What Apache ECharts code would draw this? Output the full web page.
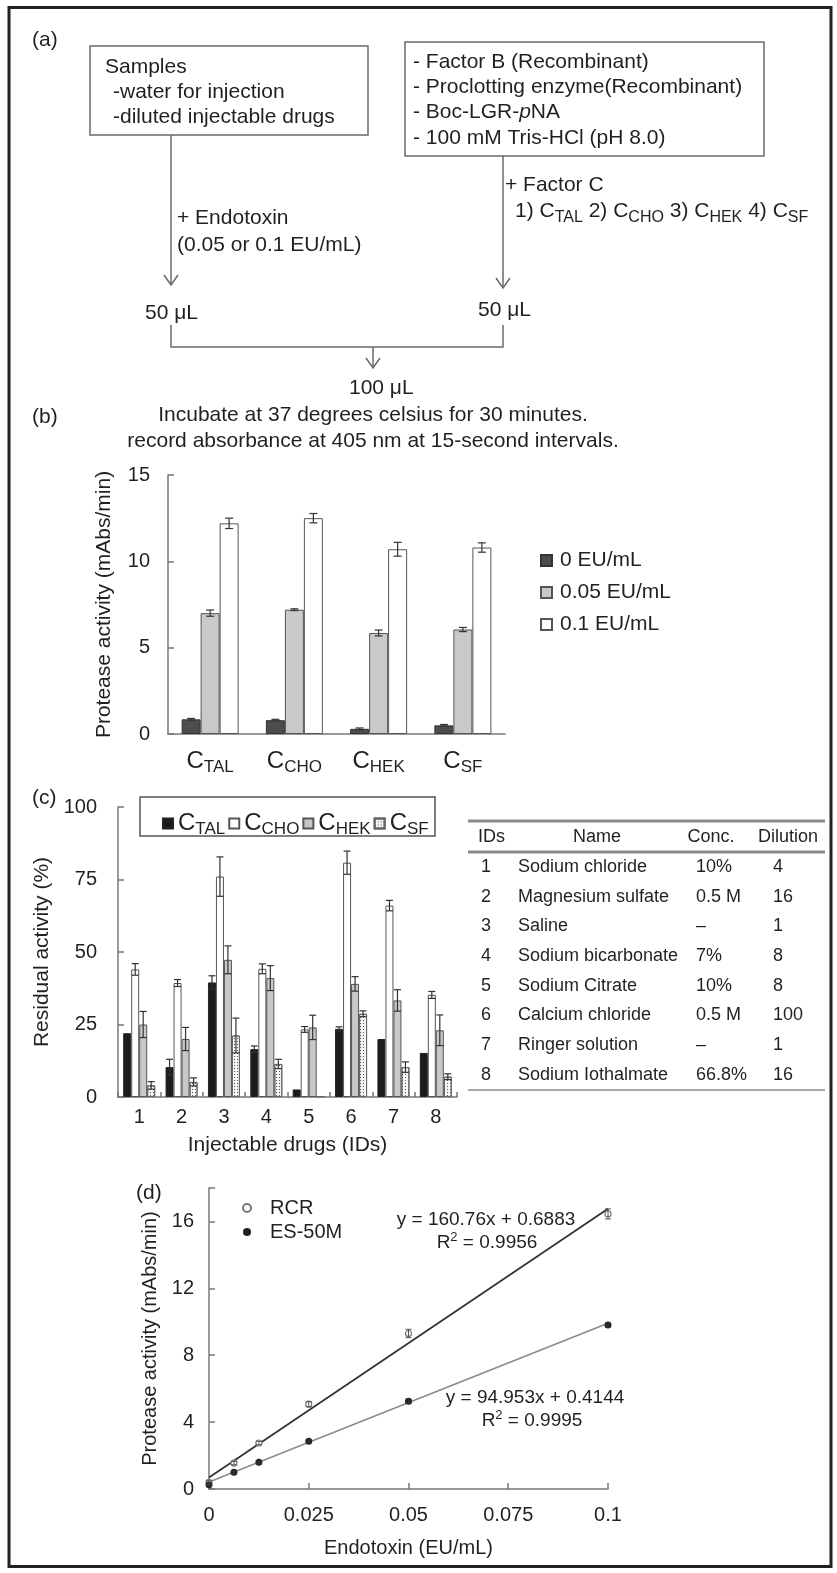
<!DOCTYPE html>
<html><head><meta charset="utf-8">
<script src="https://cdn.jsdelivr.net/npm/echarts@6/dist/echarts.min.js"></script>
<style>html,body{margin:0;padding:0;background:#fff}#c{width:837px;height:1573px}</style>
</head><body><div id="c"></div>
<script>
// ---------- Panel (a) texts ----------
const sampleLines = ['Samples', '-water for injection', '-diluted injectable drugs'];
const reagentLines = ['- Factor B (Recombinant)', '- Proclotting enzyme(Recombinant)', '- Boc-LGR-{i|p}NA', '- 100 mM Tris-HCl (pH 8.0)'];
const endotoxinLines = ['+ Endotoxin', '(0.05 or 0.1 EU/mL)'];
const factorCLines = ['+ Factor C', '1) {c|C}{s|TAL} 2) {c|C}{s|CHO} 3) {c|C}{s|HEK} 4) {c|C}{s|SF}'];
const volumeLabels = ['50 \u03bcL', '50 \u03bcL', '100 \u03bcL'];
const incubateLines = ['Incubate at 37 degrees celsius for 30 minutes.', 'record absorbance at 405 nm at 15-second intervals.'];

// ---------- Panel (b) ----------
const bCats = ['TAL', 'CHO', 'HEK', 'SF'];
const bNames = ['0 EU/mL', '0.05 EU/mL', '0.1 EU/mL'];
const b0 = [0.85, 0.8, 0.3, 0.5];
const b0Err = [0.05, 0.05, 0.05, 0.05];
const b005 = [7.0, 7.2, 5.85, 6.05];
const b005Err = [0.18, 0.05, 0.17, 0.12];
const b01 = [12.2, 12.5, 10.7, 10.8];
const b01Err = [0.3, 0.27, 0.4, 0.27];

// ---------- Panel (c) ----------
const cIDs = ['1', '2', '3', '4', '5', '6', '7', '8'];
const cNames = ['CTAL', 'CCHO', 'CHEK', 'CSF'];
const cTAL = [22, 10.3, 39.5, 16.5, 2.6, 23.5, 20, 15.2];
const cTALErr = [0, 2.7, 2.3, 1.1, 0, 0.7, 0, 0];
const cCHO = [44, 39.3, 76, 44.2, 23.3, 80.8, 66, 35.2];
const cCHOErr = [2, 1.2, 6.8, 1.7, 1, 4, 1.8, 1.2];
const cHEK = [25, 20, 47.3, 41, 24, 39, 33.3, 23];
const cHEKErr = [4.5, 4, 4.8, 4.3, 4.2, 2.5, 3.7, 5.3];
const cSF = [4, 5.2, 21.2, 11.4, 0.3, 28.7, 10.3, 7];
const cSFErr = [1.3, 1.4, 6, 1.6, 0, 1, 1.8, 1];

// ---------- Table ----------
const tHeader = ['IDs', 'Name', 'Conc.', 'Dilution'];
const tIDs = ['1', '2', '3', '4', '5', '6', '7', '8'];
const tNames = ['Sodium chloride', 'Magnesium sulfate', 'Saline', 'Sodium bicarbonate', 'Sodium Citrate', 'Calcium chloride', 'Ringer solution', 'Sodium Iothalmate'];
const tConc = ['10%', '0.5 M', '\u2013', '7%', '10%', '0.5 M', '\u2013', '66.8%'];
const tDil = ['4', '16', '1', '8', '8', '100', '1', '16'];

// ---------- Panel (d) ----------
const dX = [0, 0.00625, 0.0125, 0.025, 0.05, 0.1];
const dRCR = [0.4, 1.55, 2.75, 5.07, 9.3, 16.45];
const dRCRErr = [0.1, 0.1, 0.1, 0.15, 0.25, 0.3];
const dES = [0.25, 1.0, 1.6, 2.85, 5.25, 9.8];
const dESErr = [0.08, 0.08, 0.08, 0.1, 0.12, 0.12];
const dRCRFit = [[0, 0.6883], [0.1, 16.7643]];
const dESFit = [[0, 0.4144], [0.1, 9.9097]];
const dEq1 = ['y = 160.76x + 0.6883', 'R{sup|2} = 0.9956'];
const dEq2 = ['y = 94.953x + 0.4144', 'R{sup|2} = 0.9995'];

// ---------- styles ----------
const FF = 'Liberation Sans';
const TXT = '#231f20';
const AX = '#777';
const LN = '#6a6a6a';

const graphics = [];
function T(x, y, text, opt) {
  graphics.push({type: 'text', x: x, y: y, silent: true, z: 10,
    style: Object.assign({text: text, fontSize: 21, fontFamily: FF, fill: TXT, align: 'left', verticalAlign: 'middle', lineHeight: 24}, opt || {})});
}
function L(x1, y1, x2, y2, opt) {
  graphics.push({type: 'line', silent: true, z: 10, shape: {x1: x1, y1: y1, x2: x2, y2: y2},
    style: Object.assign({stroke: LN, lineWidth: 1.5}, opt || {})});
}
function P(points, opt) {
  graphics.push({type: 'polyline', silent: true, z: 10, shape: {points: points},
    style: Object.assign({stroke: LN, lineWidth: 1.5, fill: null}, opt || {})});
}
function R(x, y, w, h, opt) {
  graphics.push({type: 'rect', silent: true, z: 10, shape: {x: x, y: y, width: w, height: h},
    style: Object.assign({stroke: LN, lineWidth: 1.5, fill: null}, opt || {})});
}
const subRichG = {
  c: {fontSize: 21, fontFamily: FF, fill: TXT, lineHeight: 24},
  s: {fontSize: 16, fontFamily: FF, fill: TXT, lineHeight: 24, padding: [14, 0, 0, 0]},
  i: {fontSize: 21, fontFamily: FF, fill: TXT, lineHeight: 24, fontStyle: 'italic'},
  sup: {fontSize: 13, fontFamily: FF, fill: TXT, lineHeight: 22, padding: [0, 0, 12, 0]}
};

// outer frame
R(9, 7.5, 822, 1559, {stroke: '#222', lineWidth: 3});

// panel labels
T(32, 40, '(a)');
T(32, 417, '(b)');
T(32, 798, '(c)');
T(136, 1193, '(d)');

// panel (a) diagram
R(90, 46, 278, 89);
R(405, 42, 359, 114);
T(105, 67, sampleLines[0]);
T(113, 92, sampleLines[1]);
T(113, 117, sampleLines[2]);
reagentLines.forEach(function (s, i) { T(413, 62 + i * 25.3, s, {rich: subRichG}); });
L(171, 135, 171, 285);
P([[164, 275], [171, 285], [178, 275]]);
L(503, 156, 503, 288);
P([[496, 278], [503, 288], [510, 278]]);
T(177, 218, endotoxinLines[0]);
T(177, 245, endotoxinLines[1]);
T(505, 185, factorCLines[0]);
T(515, 211, factorCLines[1], {rich: subRichG});
T(145, 313, volumeLabels[0]);
T(478, 310, volumeLabels[1]);
P([[171, 325], [171, 347], [503, 347], [503, 325]]);
L(373, 347, 373, 368);
P([[366, 358], [373, 368], [380, 358]]);
T(349, 388, volumeLabels[2]);
T(373, 415, incubateLines[0], {align: 'center'});
T(373, 441, incubateLines[1], {align: 'center'});

// panel (c) legend box
R(140, 797, 295, 39, {stroke: '#555', lineWidth: 1.5});

// table
L(468, 821, 825, 821, {stroke: '#8a8a8a', lineWidth: 3});
L(468, 852, 825, 852, {stroke: '#8a8a8a', lineWidth: 3});
L(468, 1090, 825, 1090, {stroke: '#8a8a8a', lineWidth: 1.5});
const tFont = {fontSize: 18};
T(478, 837, tHeader[0], tFont);
T(597, 837, tHeader[1], Object.assign({align: 'center'}, tFont));
T(711, 837, tHeader[2], Object.assign({align: 'center'}, tFont));
T(788, 837, tHeader[3], Object.assign({align: 'center'}, tFont));
tIDs.forEach(function (id, i) {
  const y = 867 + i * 29.7;
  T(481, y, id, tFont);
  T(518, y, tNames[i], tFont);
  T(696, y, tConc[i], tFont);
  T(773, y, tDil[i], tFont);
});

// panel (d) equations
T(486, 1220, dEq1[0], {align: 'center', fontSize: 19, lineHeight: 22});
T(487, 1243, dEq1[1], {align: 'center', fontSize: 19, lineHeight: 22, rich: subRichG});
T(535, 1398, dEq2[0], {align: 'center', fontSize: 19, lineHeight: 22});
T(532, 1421, dEq2[1], {align: 'center', fontSize: 19, lineHeight: 22, rich: subRichG});

// ---------- helpers ----------
function errSeries(name, axis, cats, vals, errs, offset, cap, color, lw) {
  return {
    type: 'custom', name: name, xAxisIndex: axis, yAxisIndex: axis, z: 6, silent: true,
    data: cats.map(function (c, i) { return [c, vals[i], errs[i]]; }),
    renderItem: function (params, api) {
      const x = api.value(0), v = api.value(1), e = api.value(2);
      if (!e) return null;
      const p1 = api.coord([x, v + e]), p2 = api.coord([x, v - e]);
      const cx = p1[0] + offset;
      const st = {stroke: color, lineWidth: lw, fill: null};
      return {type: 'group', children: [
        {type: 'line', shape: {x1: cx, y1: p1[1], x2: cx, y2: p2[1]}, style: st},
        {type: 'line', shape: {x1: cx - cap / 2, y1: p1[1], x2: cx + cap / 2, y2: p1[1]}, style: st},
        {type: 'line', shape: {x1: cx - cap / 2, y1: p2[1], x2: cx + cap / 2, y2: p2[1]}, style: st}
      ]};
    }
  };
}
const axisLineSt = {show: true, lineStyle: {color: AX, width: 1.5}};
const tickIn = {show: true, inside: true, length: 6, lineStyle: {color: AX, width: 1.5}};
const lbl = function (m) { return {fontSize: 20, fontFamily: FF, color: TXT, margin: m}; };
const nameSt = {fontSize: 21, fontFamily: FF, color: TXT};
const subRichC = {
  c: {fontSize: 24, fontFamily: FF, color: TXT, lineHeight: 26},
  s: {fontSize: 17, fontFamily: FF, color: TXT, lineHeight: 26, padding: [12, 0, 0, 0]}
};

const barB = {type: 'bar', xAxisIndex: 0, yAxisIndex: 0, barWidth: 19, barGap: '0%'};
const barC = {type: 'bar', xAxisIndex: 1, yAxisIndex: 1, barWidth: 8, barGap: '0%'};
const dotDecal = {symbol: 'rect', symbolSize: 1, dashArrayX: [1, 2], dashArrayY: [1, 2], color: '#555', rotation: 0};

const option = {
  animation: false,
  backgroundColor: '#fff',
  textStyle: {fontFamily: FF, color: TXT},
  grid: [
    {left: 168, top: 475, width: 337, height: 259, outerBoundsMode: 'none'},
    {left: 118, top: 807, width: 339, height: 290, outerBoundsMode: 'none'},
    {left: 209, top: 1188, width: 399, height: 301, outerBoundsMode: 'none'}
  ],
  xAxis: [
    {gridIndex: 0, type: 'category', data: bCats, axisLine: axisLineSt, axisTick: {show: false},
      axisLabel: {interval: 0, hideOverlap: false, margin: 14, fontSize: 24, fontFamily: FF, color: TXT, rich: subRichC,
        formatter: function (v) { return '{c|C}{s|' + v + '}'; }}},
    {gridIndex: 1, type: 'category', data: cIDs, axisLine: axisLineSt,
      axisTick: {show: true, inside: true, length: 5, lineStyle: {color: AX, width: 1.5}},
      axisLabel: Object.assign(lbl(10), {interval: 0}), name: 'Injectable drugs (IDs)', nameLocation: 'middle', nameGap: 38, nameTextStyle: nameSt},
    {gridIndex: 2, type: 'value', min: 0, max: 0.1, interval: 0.025, axisLine: axisLineSt, axisTick: tickIn,
      splitLine: {show: false}, axisLabel: lbl(16), name: 'Endotoxin (EU/mL)', nameLocation: 'middle', nameGap: 49,
      nameTextStyle: {fontSize: 20, fontFamily: FF, color: TXT}}
  ],
  yAxis: [
    {gridIndex: 0, type: 'value', min: 0, max: 15, interval: 5, axisLine: axisLineSt, axisTick: tickIn,
      splitLine: {show: false}, axisLabel: lbl(18), name: 'Protease activity (mAbs/min)', nameLocation: 'middle',
      nameGap: 53, nameTextStyle: nameSt},
    {gridIndex: 1, type: 'value', min: 0, max: 100, interval: 25, axisLine: axisLineSt, axisTick: tickIn,
      splitLine: {show: false}, axisLabel: lbl(21), name: 'Residual activity (%)', nameLocation: 'middle',
      nameGap: 65, nameTextStyle: nameSt},
    {gridIndex: 2, type: 'value', min: 0, max: 18, interval: 4, axisLine: axisLineSt, axisTick: tickIn,
      splitLine: {show: false},
      axisLabel: Object.assign(lbl(15), {formatter: function (v) { return v > 16 ? '' : String(v); }}),
      name: 'Protease activity (mAbs/min)', nameLocation: 'middle', nameGap: 49,
      nameTextStyle: {fontSize: 20, fontFamily: FF, color: TXT}}
  ],
  legend: [
    {data: bNames, orient: 'vertical', left: 535, top: 544, itemWidth: 11, itemHeight: 11, itemGap: 9,
      icon: 'rect', selectedMode: false,
      textStyle: {fontSize: 21, fontFamily: FF, color: TXT, lineHeight: 23, padding: [0, 0, 0, 3]}},
    {data: cNames, orient: 'horizontal', left: 157, top: 804, itemWidth: 10, itemHeight: 10, itemGap: 3,
      icon: 'rect', selectedMode: false,
      formatter: function (n) { return '{c|C}{s|' + n.slice(1) + '}'; },
      textStyle: {fontSize: 24, fontFamily: FF, color: TXT, rich: subRichC}},
    {data: ['RCR', 'ES-50M'], orient: 'vertical', left: 237, top: 1193, itemWidth: 8, itemHeight: 8, itemGap: 4,
      icon: 'circle', selectedMode: false,
      textStyle: {fontSize: 20, fontFamily: FF, color: TXT, lineHeight: 20, padding: [0, 0, 0, 14]}}
  ],
  series: [
    Object.assign({name: bNames[0], data: b0, itemStyle: {color: '#4d4d4d', borderColor: '#333', borderWidth: 1}}, barB),
    Object.assign({name: bNames[1], data: b005, itemStyle: {color: '#c9c9c9', borderColor: '#555', borderWidth: 1}}, barB),
    Object.assign({name: bNames[2], data: b01, itemStyle: {color: '#ffffff', borderColor: '#555', borderWidth: 1}}, barB),
    errSeries('eb0', 0, bCats, b0, b0Err, -19, 8, '#333', 1.2),
    errSeries('eb1', 0, bCats, b005, b005Err, 0, 8, '#333', 1.2),
    errSeries('eb2', 0, bCats, b01, b01Err, 19, 8, '#333', 1.2),

    Object.assign({name: cNames[0], data: cTAL, itemStyle: {color: '#1c1c1c', borderColor: '#222', borderWidth: 1}}, barC),
    Object.assign({name: cNames[1], data: cCHO, itemStyle: {color: '#ffffff', borderColor: '#555', borderWidth: 1}}, barC),
    Object.assign({name: cNames[2], data: cHEK, itemStyle: {color: '#c8c8c8', borderColor: '#555', borderWidth: 1}}, barC),
    Object.assign({name: cNames[3], data: cSF, itemStyle: {color: '#f4f4f4', borderColor: '#666', borderWidth: 1, decal: dotDecal}}, barC),
    errSeries('ec0', 1, cIDs, cTAL, cTALErr, -12, 7, '#333', 1.2),
    errSeries('ec1', 1, cIDs, cCHO, cCHOErr, -4, 7, '#333', 1.2),
    errSeries('ec2', 1, cIDs, cHEK, cHEKErr, 4, 7, '#333', 1.2),
    errSeries('ec3', 1, cIDs, cSF, cSFErr, 12, 7, '#333', 1.2),

    {name: 'fitRCR', type: 'line', xAxisIndex: 2, yAxisIndex: 2, data: dRCRFit, symbol: 'none', silent: true, z: 2,
      lineStyle: {color: '#333', width: 1.8}},
    {name: 'fitES', type: 'line', xAxisIndex: 2, yAxisIndex: 2, data: dESFit, symbol: 'none', silent: true, z: 2,
      lineStyle: {color: '#8a8a8a', width: 1.6}},
    {name: 'RCR', type: 'scatter', xAxisIndex: 2, yAxisIndex: 2, z: 4, symbol: 'circle', symbolSize: 6,
      data: dX.map(function (x, i) { return [x, dRCR[i]]; }),
      itemStyle: {color: '#fff', borderColor: '#777', borderWidth: 1.2, opacity: 1}},
    {name: 'ES-50M', type: 'scatter', xAxisIndex: 2, yAxisIndex: 2, z: 4, symbol: 'circle', symbolSize: 7,
      data: dX.map(function (x, i) { return [x, dES[i]]; }),
      itemStyle: {color: '#222', opacity: 1}},
    errSeries('ed0', 2, dX, dRCR, dRCRErr, 0, 6, '#555', 1),
    errSeries('ed1', 2, dX, dES, dESErr, 0, 6, '#333', 1)
  ],
  graphic: graphics
};
const chart = echarts.init(document.getElementById('c'), null, {renderer: 'canvas'});
chart.setOption(option);
</script></body></html>
